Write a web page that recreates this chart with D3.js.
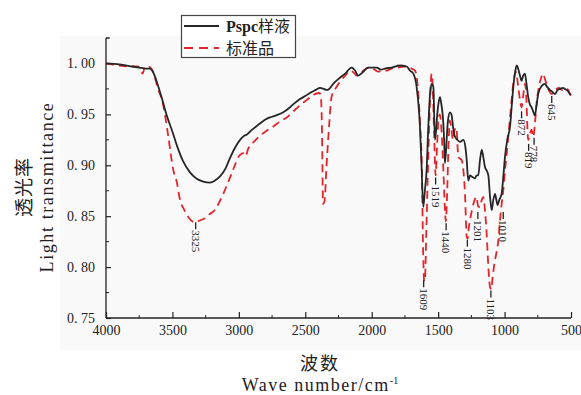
<!DOCTYPE html>
<html>
<head>
<meta charset="utf-8">
<script src="https://cdn.jsdelivr.net/npm/d3@7/dist/d3.min.js"></script>
<style>
  html, body { margin: 0; padding: 0; background: #ffffff; }
  svg { display: block; }
  text { font-family: "Liberation Serif", "Noto Sans CJK SC", serif; fill: #222; }
</style>
</head>
<body>
<svg id="chart" width="581" height="395"></svg>
<script>
// FTIR spectra: Pspc sample vs. standard (wavenumber in cm^-1, light transmittance)
const sampleWave = [4000,3900,3800,3750,3700,3669,3640,3618,3580,3543,3500,3468,3420,3368,3320,3268,3217,3180,3142,3100,3067,3030,2991,2960,2941,2900,2841,2800,2766,2720,2666,2615,2580,2540,2500,2465,2420,2389,2360,2339,2320,2290,2239,2200,2151,2125,2103,2070,2028,1990,1963,1930,1900,1850,1787,1737,1712,1687,1662,1637,1625,1612,1600,1587,1575,1561,1549,1536,1524,1515,1506,1496,1486,1476,1466,1455,1449,1440,1436,1425,1411,1400,1385,1373,1355,1335,1310,1295,1285,1273,1260,1248,1235,1223,1210,1198,1185,1172,1160,1147,1135,1122,1110,1097,1085,1072,1062,1052,1040,1022,1010,997,980,959,945,934,920,909,896,884,872,860,847,835,822,810,797,785,772,760,747,720,697,680,659,640,621,600,583,560,546,525,508,500];
const sampleT = [1.000,0.999,0.997,0.996,0.995,0.995,0.990,0.982,0.966,0.949,0.933,0.920,0.904,0.893,0.887,0.884,0.883,0.885,0.889,0.897,0.907,0.917,0.925,0.929,0.930,0.935,0.941,0.945,0.947,0.949,0.952,0.957,0.961,0.965,0.968,0.971,0.974,0.976,0.975,0.974,0.975,0.980,0.986,0.990,0.996,0.993,0.988,0.991,0.996,0.996,0.996,0.994,0.995,0.996,0.998,0.997,0.993,0.990,0.977,0.938,0.900,0.859,0.875,0.895,0.935,0.970,0.980,0.977,0.925,0.935,0.951,0.962,0.967,0.960,0.950,0.925,0.902,0.915,0.925,0.945,0.952,0.950,0.935,0.928,0.925,0.923,0.925,0.918,0.905,0.885,0.890,0.889,0.888,0.887,0.890,0.890,0.905,0.915,0.908,0.898,0.895,0.890,0.870,0.856,0.866,0.872,0.866,0.861,0.866,0.872,0.888,0.908,0.925,0.938,0.960,0.977,0.992,0.998,0.994,0.988,0.983,0.988,0.990,0.980,0.967,0.960,0.957,0.953,0.949,0.958,0.970,0.978,0.980,0.977,0.974,0.972,0.970,0.974,0.975,0.976,0.975,0.973,0.970,0.969];

const standardWave = [4000,3900,3800,3760,3740,3725,3705,3680,3665,3646,3610,3569,3533,3493,3468,3443,3410,3380,3330,3290,3255,3220,3180,3150,3117,3085,3054,3030,3004,2991,2970,2950,2930,2880,2841,2790,2741,2690,2640,2590,2540,2490,2440,2400,2385,2375,2366,2355,2340,2320,2305,2290,2270,2239,2200,2163,2135,2113,2080,2040,2013,1980,1950,1920,1888,1850,1800,1763,1730,1700,1674,1660,1649,1636,1624,1612,1605,1599,1590,1575,1562,1549,1540,1530,1519,1508,1497,1488,1475,1462,1450,1442,1433,1422,1411,1400,1388,1375,1363,1348,1323,1310,1298,1285,1278,1270,1260,1235,1210,1200,1185,1172,1160,1147,1135,1122,1110,1100,1090,1072,1060,1047,1035,1022,1010,997,985,972,960,947,935,922,915,905,897,885,872,860,847,840,822,810,797,784,772,759,740,722,710,697,684,665,646,630,609,590,570,545,521,508,500];
const standardT = [1.000,0.998,0.997,0.997,0.993,0.990,0.997,0.997,0.996,0.992,0.976,0.959,0.930,0.895,0.884,0.866,0.856,0.849,0.844,0.846,0.848,0.852,0.856,0.863,0.872,0.882,0.892,0.900,0.908,0.910,0.912,0.909,0.916,0.924,0.929,0.934,0.938,0.943,0.947,0.953,0.959,0.964,0.969,0.971,0.970,0.940,0.862,0.865,0.900,0.940,0.965,0.972,0.976,0.982,0.988,0.993,0.991,0.988,0.991,0.995,0.996,0.994,0.992,0.993,0.993,0.995,0.996,0.997,0.996,0.995,0.993,0.985,0.970,0.940,0.905,0.810,0.786,0.788,0.830,0.905,0.960,0.990,0.975,0.930,0.890,0.920,0.945,0.950,0.935,0.900,0.860,0.845,0.870,0.920,0.944,0.935,0.925,0.935,0.937,0.908,0.905,0.895,0.872,0.830,0.828,0.838,0.846,0.862,0.869,0.860,0.859,0.866,0.869,0.855,0.833,0.800,0.781,0.778,0.790,0.807,0.815,0.826,0.845,0.862,0.875,0.895,0.910,0.928,0.945,0.964,0.980,0.990,0.992,0.985,0.977,0.965,0.957,0.968,0.980,0.975,0.925,0.930,0.935,0.928,0.940,0.961,0.978,0.987,0.990,0.985,0.980,0.973,0.970,0.972,0.975,0.976,0.974,0.976,0.974,0.970,0.968];

// Annotated absorption bands and the transmittance level where each marker starts
const peakWave  = [3325, 1609, 1519, 1440, 1280, 1201, 1103, 1010, 872, 819, 778, 645];
const peakLevel = [0.844, 0.787, 0.888, 0.843, 0.827, 0.854, 0.777, 0.854, 0.953, 0.921, 0.927, 0.968];

const xTicks = [4000, 3500, 3000, 2500, 2000, 1500, 1000, 500];
const yTicks = [0.75, 0.80, 0.85, 0.90, 0.95, 1.00];
const legendLatin = ["Pspc", ""];
const legendCJK = ["样液", "标准品"];

const svg = d3.select("#chart");

const x = d3.scaleLinear().domain([4000, 500]).range([106, 571]);
const y = d3.scaleLinear().domain([0.75, 1.025]).range([318, 38]);

// faint panel behind the plot
svg.append("rect").attr("x", 60).attr("y", 36).attr("width", 521).attr("height", 314)
  .attr("fill", "#f9f9f9");

// axes with inward ticks
const xMinor = d3.range(3750, 500, -500);
const yMinor = d3.range(0.775, 1.03, 0.05);

const xAxis = svg.append("g").attr("transform", `translate(0,${y(0.75)})`)
  .call(d3.axisBottom(x).tickValues(xTicks).tickSize(-6).tickPadding(9).tickFormat(d3.format("d")));
xAxis.append("g").selectAll("line").data(xMinor).join("line")
  .attr("x1", d => x(d)).attr("x2", d => x(d)).attr("y1", 0).attr("y2", -3)
  .attr("stroke", "#222");

const yAxis = svg.append("g").attr("transform", `translate(${x(4000)},0)`)
  .call(d3.axisLeft(y).tickValues(yTicks).tickSize(-5).tickPadding(11)
    .tickFormat(d => d3.format(".2f")(d).replace(".", ". ")));
yAxis.append("g").selectAll("line").data(yMinor).join("line")
  .attr("x1", 0).attr("x2", 3).attr("y1", d => y(d)).attr("y2", d => y(d))
  .attr("stroke", "#222");
// top cap of the y axis
yAxis.append("line").attr("x1", 0).attr("x2", 4).attr("y1", y(1.025)).attr("y2", y(1.025))
  .attr("stroke", "#222");

[xAxis, yAxis].forEach(g => {
  g.select(".domain").attr("stroke", "#222").attr("stroke-width", 1.3);
  g.selectAll(".tick line").attr("stroke", "#222").attr("stroke-width", 1.2);
  g.selectAll(".tick text").attr("fill", "#222")
    .style("font-family", "'Liberation Serif', serif").style("font-size", "14px");
});
xAxis.selectAll(".tick text").attr("dy", "0.55em");
yAxis.select(".domain").attr("d", `M0,${y(0.75)}V${y(1.025)}`);
xAxis.select(".domain").attr("d", `M${x(4000)},0H${x(500)}`);

// spectra
const line = d3.line().x(d => x(d[0])).y(d => y(d[1])).curve(d3.curveMonotoneX);
const standardPts = d3.zip(standardWave, standardT);
const samplePts = d3.zip(sampleWave, sampleT);

svg.append("path").datum(standardPts).attr("d", line)
  .attr("fill", "none").attr("stroke", "#e2242b").attr("stroke-width", 1.8)
  .attr("stroke-dasharray", "8,5");
svg.append("path").datum(samplePts).attr("d", line)
  .attr("fill", "none").attr("stroke", "#262626").attr("stroke-width", 1.8);

// band markers with vertical labels
const peaks = svg.append("g");
peakWave.forEach((w, i) => {
  const px = x(w), py = y(peakLevel[i]);
  peaks.append("line").attr("x1", px).attr("x2", px).attr("y1", py).attr("y2", py + 7)
    .attr("stroke", "#222").attr("stroke-width", 1.3);
  peaks.append("text").attr("transform", `translate(${px},${py + 8}) rotate(90)`)
    .attr("dy", "0.35em").style("font-size", "11px").text(w);
});

// legend
const lg = svg.append("g");
lg.append("rect").attr("x", 181.5).attr("y", 15.5).attr("width", 114).attr("height", 42)
  .attr("fill", "#ffffff").attr("stroke", "#444").attr("stroke-width", 1.2);
lg.append("line").attr("x1", 184).attr("x2", 219).attr("y1", 26).attr("y2", 26)
  .attr("stroke", "#262626").attr("stroke-width", 1.8);
lg.append("line").attr("x1", 184).attr("x2", 219).attr("y1", 48).attr("y2", 48)
  .attr("stroke", "#e2242b").attr("stroke-width", 1.8).attr("stroke-dasharray", "9,6");
legendCJK.forEach((name, i) => {
  const t = lg.append("text").attr("x", 226).attr("y", 32 + i * 22).style("font-size", "16px");
  if (legendLatin[i]) t.append("tspan").style("font-weight", "bold").text(legendLatin[i]);
  t.append("tspan").text(name);
});

// axis titles
svg.append("text").attr("x", 320).attr("y", 370).attr("text-anchor", "middle")
  .style("font-size", "18px").style("letter-spacing", "2px").text("波数");
const xt = svg.append("text").attr("x", 320).attr("y", 391).attr("text-anchor", "middle")
  .style("font-size", "18px");
xt.append("tspan").style("letter-spacing", "1.5px").text("Wave number/cm");
xt.append("tspan").attr("dy", -7).style("font-size", "10px").text("-1");

svg.append("text").attr("transform", "translate(31,187) rotate(-90)").attr("text-anchor", "middle")
  .style("font-size", "19px").style("letter-spacing", "1px").text("透光率");
svg.append("text").attr("transform", "translate(53,187) rotate(-90)").attr("text-anchor", "middle")
  .style("font-size", "18px").style("letter-spacing", "1.6px").text("Light transmittance");
</script>
</body>
</html>
